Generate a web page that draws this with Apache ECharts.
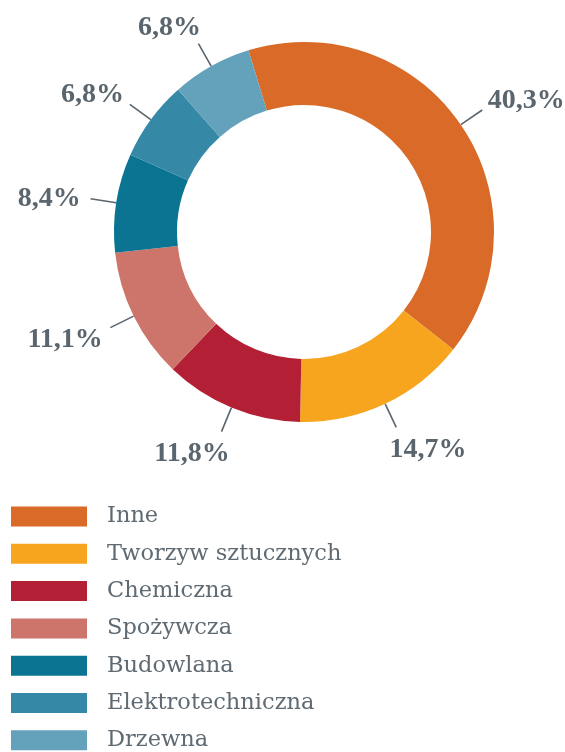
<!DOCTYPE html>
<html>
<head>
<meta charset="utf-8">
<script src="https://cdn.jsdelivr.net/npm/echarts@6/dist/echarts.min.js"></script>
<style>
  html, body { margin: 0; padding: 0; background: #fff; }
  #chart { width: 565px; height: 752px; }
</style>
</head>
<body>
<div id="chart"></div>
<script>
// dane
let categories = ['Inne', 'Tworzyw sztucznych', 'Chemiczna', 'Spożywcza', 'Budowlana', 'Elektrotechniczna', 'Drzewna'];
let shares = [40.3, 14.7, 11.8, 11.1, 8.4, 6.8, 6.8];
let colors = ['#d96a27', '#f7a51e', '#b31f34', '#cd756a', '#0b7493', '#3589a7', '#64a2bc'];

let textColor = '#5a656d';

let myChart = echarts.init(document.getElementById('chart'));

let pieData = [];
for (let i = 0; i < categories.length; i++) {
    pieData.push({ name: categories[i], value: shares[i], itemStyle: { color: colors[i] } });
}

// etykieta odsunieta od konca linii
function placeLabel(params) {
    let pts = params.labelLinePoints;
    if (!pts) return {};
    let p0 = pts[0], p1 = pts[1];
    let dx = p1[0] - p0[0], dy = p1[1] - p0[1];
    let len = Math.sqrt(dx * dx + dy * dy) || 1;
    dx /= len;
    dy /= len;
    let w = params.labelRect.width, h = params.labelRect.height;
    let sx = (dx < 0 ? -1 : 1) * Math.sqrt(Math.abs(dx));
    return {
        x: p1[0] + sx * (10 + w / 2),
        y: p1[1] + dy * (7 + h / 2) + 3,
        align: 'center',
        verticalAlign: 'middle',
        labelLinePoints: [p0, p1, p1]
    };
}

myChart.setOption({
    backgroundColor: '#fff',
    animation: false,
    legend: {
        orient: 'vertical',
        left: 11,
        top: 505,
        height: 300,
        padding: 0,
        itemWidth: 76,
        itemHeight: 20,
        itemGap: 14.3,
        icon: 'rect',
        data: categories,
        textStyle: {
            fontFamily: 'DejaVu Serif',
            fontSize: 22.5,
            color: '#5f6a72',
            padding: [0, 0, 0, 15]
        }
    },
    series: [{
        name: 'Branże',
        type: 'pie',
        center: [304, 232],
        radius: [127, 190],
        startAngle: 107,
        clockwise: true,
        avoidLabelOverlap: false,
        data: pieData,
        itemStyle: { borderWidth: 0 },
        label: {
            show: true,
            position: 'outside',
            formatter: function (p) {
                return p.value.toFixed(1).replace('.', ',') + '%';
            },
            fontFamily: 'Liberation Serif',
            fontWeight: 'bold',
            fontSize: 28,
            color: textColor
        },
        labelLine: {
            show: true,
            length: 26,
            length2: 0,
            lineStyle: { color: textColor, width: 1.6 }
        },
        labelLayout: placeLabel,
        emphasis: { disabled: true }
    }]
});
</script>
</body>
</html>
